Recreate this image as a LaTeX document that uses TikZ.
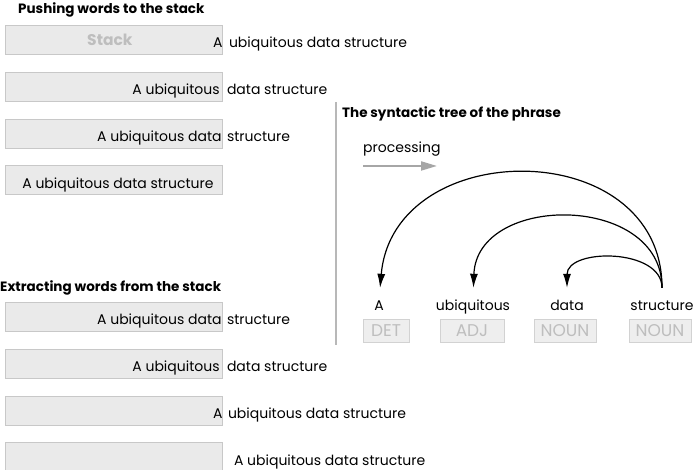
\documentclass[tikz,border=0pt]{standalone}
\usepackage{fontspec}
\setmainfont{Poppins}
\usetikzlibrary{positioning, arrows.meta}
\definecolor{stackfill}{HTML}{EAEAEA}
\definecolor{stackline}{HTML}{C8C8C8}
\definecolor{tagfill}{HTML}{EEEEEE}
\definecolor{tagline}{HTML}{D2D2D2}
\definecolor{tagtext}{HTML}{BEBEBE}

\begin{document}
\begin{tikzpicture}[x=1pt, y=-1pt,
    stackbox/.style={rectangle, draw=stackline, fill=stackfill, line width=0.8pt,
                     minimum width=217pt, minimum height=29pt, inner sep=0pt},
    head/.style={font=\bfseries\fontsize{13.5}{16}\selectfont, anchor=base west, inner sep=0pt},
    phrase/.style={font=\fontsize{14}{16}\selectfont, inner sep=0pt},
    wrd/.style={font=\fontsize{14}{16}\selectfont, anchor=base, inner sep=0pt, text height=10pt},
    tagbox/.style={rectangle, draw=tagline, fill=tagfill, text=tagtext, line width=0.8pt,
                   minimum height=23pt, inner sep=0pt, font=\fontsize{17}{19}\selectfont},
    arc/.style={-{Latex[length=14pt, width=8pt]}, line width=1.2pt, shorten <=12pt, shorten >=12pt},
    procarr/.style={-{Triangle[length=16pt, width=9pt]}, black!35, line width=2pt},
  ]
    \useasboundingbox (0,0) rectangle (695,470);

    % pushing
    \node[head] (pushhead) at (18,14) {Pushing words to the stack};
    \node[stackbox, anchor=north west] (push1) at (5,25) {};
    \node[stackbox, below=17pt of push1] (push2) {};
    \node[stackbox, below=17pt of push2] (push3) {};
    \node[stackbox, below=17pt of push3] (push4) {};
    \node[font=\bfseries\fontsize{15.5}{18}\selectfont, text=tagtext] (stack) at ([xshift=-4pt]push1.center) {Stack};
    \node[phrase, anchor=base east] (in1) at ([yshift=-8pt]push1.east) {A};
    \node[phrase, anchor=base west] (out1) at ([xshift=6pt, yshift=-8pt]push1.east) {ubiquitous data structure};
    \node[phrase, anchor=base east] (in2) at ([xshift=-3pt, yshift=-8pt]push2.east) {A ubiquitous};
    \node[phrase, anchor=base west] (out2) at ([xshift=4pt, yshift=-8pt]push2.east) {data structure};
    \node[phrase, anchor=base east] (in3) at ([xshift=-1pt, yshift=-8pt]push3.east) {A ubiquitous data};
    \node[phrase, anchor=base west] (out3) at ([xshift=4pt, yshift=-8pt]push3.east) {structure};
    \node[phrase, anchor=base east] (in4) at ([xshift=-9pt, yshift=-8pt]push4.east) {A ubiquitous data structure};

    % extracting
    \node[head] (pophead) at (0,291) {Extracting words from the stack};
    \node[stackbox, anchor=north west] (pop1) at (5,302) {};
    \node[stackbox, below=17pt of pop1] (pop2) {};
    \node[stackbox, below=17pt of pop2] (pop3) {};
    \node[stackbox, below=17pt of pop3] (pop4) {};
    \node[phrase, anchor=base east] (pin1) at ([xshift=-1pt, yshift=-8pt]pop1.east) {A ubiquitous data};
    \node[phrase, anchor=base west] (pout1) at ([xshift=4pt, yshift=-8pt]pop1.east) {structure};
    \node[phrase, anchor=base east] (pin2) at ([xshift=-3pt, yshift=-8pt]pop2.east) {A ubiquitous};
    \node[phrase, anchor=base west] (pout2) at ([xshift=4pt, yshift=-8pt]pop2.east) {data structure};
    \node[phrase, anchor=base east] (pin3) at ([yshift=-8pt]pop3.east) {A};
    \node[phrase, anchor=base west] (pout3) at ([xshift=5pt, yshift=-8pt]pop3.east) {ubiquitous data structure};
    \node[phrase, anchor=base west] (pout4) at ([xshift=11pt, yshift=-8pt]pop4.east) {A ubiquitous data structure};

    % divider
    \draw[black!28, line width=1.6pt] (336,102) -- (336,345);

    % syntactic tree
    \node[head] (treehead) at (342,118) {The syntactic tree of the phrase};
    \node[phrase, anchor=base west] (proc) at (363,153) {processing};
    \draw[procarr] ([yshift=-9pt]proc.south west) -- ++(74,0);

    \node[wrd] (w1) at (379,310) {A};
    \node[wrd] (w2) at (473,310) {ubiquitous};
    \node[wrd] (w3) at (567,310) {data};
    \node[wrd] (w4) at (662,310) {structure};

    \node[tagbox, minimum width=46pt] (t1) at (386,331) {DET};
    \node[tagbox, minimum width=64pt] (t2) at (472,331) {ADJ};
    \node[tagbox, minimum width=62pt] (t3) at (565,331) {NOUN};
    \node[tagbox, minimum width=62pt] (t4) at (660,331) {NOUN};

    \draw[arc] (w4.north) to[out=90, in=85, looseness=1.5] (w1.north);
    \draw[arc] (w4.north) to[out=90, in=88, looseness=1.45] (w2.north);
    \draw[arc] (w4.north) to[out=90, in=90, looseness=1.4] (w3.north);
\end{tikzpicture}
\end{document}
